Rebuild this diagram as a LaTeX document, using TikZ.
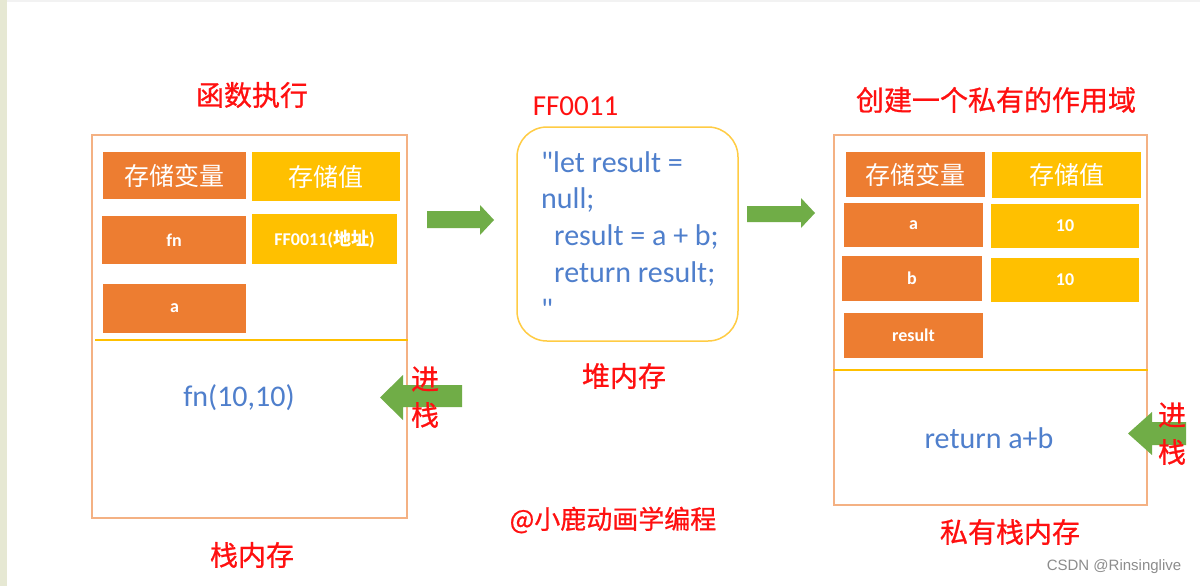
\documentclass[tikz,border=0pt]{standalone}
\usepackage{fontspec}
\setmainfont{Carlito}
\newfontfamily\codef{Carlito}[Ligatures=TeXOff]
\newfontfamily\cjk{Noto Sans CJK SC}
\newfontfamily\cjkt{Noto Sans CJK SC}[FakeBold=0.8]
\newfontfamily\wm{Liberation Sans}
\definecolor{orgC}{HTML}{ED7D31}
\definecolor{ylwC}{HTML}{FFC000}
\definecolor{frameC}{HTML}{F4B183}
\definecolor{heapC}{HTML}{FFCC44}
\definecolor{greenC}{HTML}{70AD47}
\definecolor{codeC}{HTML}{4F7FCC}
\definecolor{redC}{HTML}{FF1010}
\definecolor{stripeC}{HTML}{E6E8D3}
\definecolor{wmC}{HTML}{8C8C8C}
\tikzset{
  frame/.style={draw=frameC, line width=1.4pt, inner sep=0pt},
  divider/.style={draw=ylwC, line width=2.2pt},
  cell/.style={inner sep=0pt, text=white},
  varcell/.style={cell, fill=orgC},
  valcell/.style={cell, fill=ylwC},
  hdr/.style={font=\cjk\fontsize{25}{30}\selectfont},
  small/.style={font=\bfseries\fontsize{18}{22}\selectfont},
  title/.style={text=redC, font=\cjkt\fontsize{28}{34}\selectfont},
  code/.style={text=codeC, font=\codef\fontsize{30}{36}\selectfont, inner sep=0pt},
  blockarrow/.style={fill=greenC},
}
\begin{document}
\begin{tikzpicture}[x=1pt,y=-1pt]
\useasboundingbox (0,0) rectangle (1200,586);
\fill[white] (0,0) rectangle (1200,586);
\fill[stripeC] (0,0) rectangle (7,586);
\fill[black!5] (7,0) rectangle (1200,2.5);

% ---------- left: stack memory ----------
\node[title] (t1) at (252,95) {函数执行};
\node[frame, minimum width=315pt, minimum height=383pt] (lframe) at (249.5,326.5) {};
\draw[divider] (95,340) -- (lframe.east |- 0,340);
\node[varcell, hdr, minimum width=143pt, minimum height=47pt] (lh1) at (174.5,175.5) {存储变量};
\node[valcell, hdr, minimum width=148pt, minimum height=49pt] (lh2) at (326,176.5) {存储值};
\node[varcell, small, minimum width=144pt, minimum height=48pt] (lfn) at (174,240) {fn};
\node[valcell, small, minimum width=145pt, minimum height=50pt] (lff) at (324.5,239) {FF0011({\cjk 地址})};
\node[varcell, small, minimum width=143pt, minimum height=49pt] (la) at (174.5,308.5) {a};
\node[code, anchor=base] (lcall) at (239,406) {fn(10,10)};
\node[title] (t2) at (252,555) {栈内存};

% ---------- middle: heap ----------
\node[text=redC, font=\fontsize{29}{34}\selectfont, anchor=base] (ff) at (575.5,115) {FF0011};
\node[draw=heapC, line width=1.5pt, rounded corners=30pt, minimum width=221pt, minimum height=214pt] (heap) at (627.5,234) {};
\node[code, anchor=base west] (c1) at (541,172) {"let result =};
\node[code, anchor=base west] (c2) at (541,208.8) {null;};
\node[code, anchor=base west] (c3) at (554,245.6) {result = a + b;};
\node[code, anchor=base west] (c4) at (554,282.4) {return result;};
\node[code, anchor=base west] (c5) at (541,319.2) {"};
\node[title] (t3) at (624,376) {堆内存};
\node[title, font=\cjkt\fontsize{26}{30}\selectfont] (credit) at (613,520) {@小鹿动画学编程};

% ---------- right: private scope ----------
\node[title] (t4) at (996,100) {创建一个私有的作用域};
\node[frame, minimum width=313pt, minimum height=370pt] (rframe) at (990.5,320) {};
\draw[divider] (rframe.west |- 0,370) -- (rframe.east |- 0,370);
\node[varcell, hdr, minimum width=139pt, minimum height=45pt] (rh1) at (915.5,174.5) {存储变量};
\node[valcell, hdr, minimum width=149pt, minimum height=46pt] (rh2) at (1066.5,175) {存储值};
\node[varcell, small, minimum width=139pt, minimum height=44pt] (ra) at (913.5,225) {a};
\node[valcell, small, minimum width=148pt, minimum height=44pt] (rva) at (1065,226) {10};
\node[varcell, small, minimum width=140pt, minimum height=45pt] (rb) at (912,278.5) {b};
\node[valcell, small, minimum width=148pt, minimum height=44pt] (rvb) at (1065,280) {10};
\node[varcell, small, minimum width=139pt, minimum height=45pt] (rres) at (913.5,335.5) {result};
\node[code, anchor=base] (rret) at (989,448) {return a+b};
\node[title] (t5) at (1010,532) {私有栈内存};

% ---------- block arrows ----------
\fill[blockarrow] (427,211) -- (480,211) -- (480,205) -- (494,220) -- (480,235) -- (480,228) -- (427,228) -- cycle;
\fill[blockarrow] (747,206) -- (801,206) -- (801,198) -- (815,213) -- (801,228) -- (801,222) -- (747,222) -- cycle;
\fill[blockarrow] (462,385) -- (403,385) -- (403,375) -- (380,397.5) -- (403,420) -- (403,407) -- (462,407) -- cycle;
\node[title] (p1) at (425,379) {进};
\node[title] (p2) at (425,415) {栈};
\begin{scope}
\clip (0,0) rectangle (1186,586);
\fill[blockarrow] (1200,422) -- (1152,422) -- (1152,412) -- (1128,433.5) -- (1152,455) -- (1152,445) -- (1200,445) -- cycle;
\node[title] (p3) at (1172,415) {进};
\node[title] (p4) at (1172,452) {栈};
\end{scope}

\node[text=wmC, font=\wm\fontsize{15}{17}\selectfont] (wm) at (1114,567) {CSDN @Rinsinglive};
\end{tikzpicture}
\end{document}
